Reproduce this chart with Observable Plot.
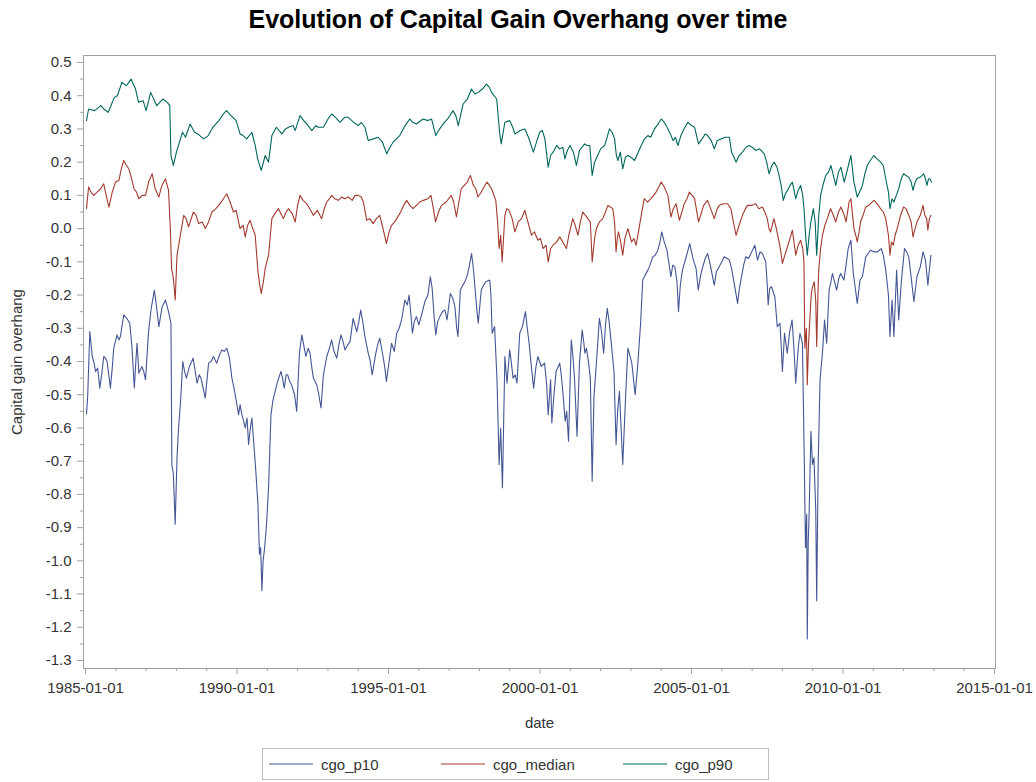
<!DOCTYPE html>
<html><head><meta charset="utf-8">
<script src="https://cdn.jsdelivr.net/npm/d3@7"></script>
<script src="https://cdn.jsdelivr.net/npm/@observablehq/plot@0.6"></script>
<style>
body{margin:0;background:#fff;font-family:"Liberation Sans",Arial,sans-serif;}
#wrap{position:relative;width:1036px;height:782px;overflow:hidden;}
#title{position:absolute;top:5px;left:0;width:1036px;text-align:center;font-weight:bold;font-size:25px;color:#000;}
#chart{position:absolute;top:40px;left:0;}
#legend{position:absolute;left:262px;top:748px;width:507px;height:32px;border:1px solid #bdbdbd;box-sizing:border-box;}
.item{position:absolute;top:0;height:30px;display:flex;align-items:center;font-size:15px;color:#333;}
.item svg{margin-right:8px;}
</style></head>
<body><div id="wrap">
<div id="title">Evolution of Capital Gain Overhang over time</div>
<div id="chart"></div>
<div id="legend"></div>
</div>
<script>
const seriesNames = ["cgo_p10", "cgo_median", "cgo_p90"];
const seriesColors = ["#445694", "#A23A2E", "#01665E"];

// dates as decimal years
const p90Dates = [1985.03,1985.1,1985.3,1985.5,1985.6,1985.75,1985.95,1986.05,1986.2,1986.35,1986.5,1986.65,1986.75,1986.9,1987.0,1987.15,1987.35,1987.55,1987.7,1987.78,1987.82,1987.9,1988.0,1988.2,1988.3,1988.45,1988.6,1988.7,1988.9,1989.05,1989.2,1989.4,1989.55,1989.65,1989.8,1989.97,1990.1,1990.2,1990.32,1990.49,1990.6,1990.68,1990.8,1990.93,1991.04,1991.15,1991.3,1991.48,1991.6,1991.7,1991.85,1991.92,1992.08,1992.2,1992.3,1992.47,1992.6,1992.68,1992.85,1993.0,1993.12,1993.25,1993.4,1993.55,1993.67,1993.85,1994.0,1994.1,1994.22,1994.33,1994.5,1994.66,1994.8,1994.94,1995.05,1995.15,1995.37,1995.55,1995.7,1995.8,1995.92,1996.14,1996.3,1996.42,1996.56,1996.65,1996.8,1996.95,1997.13,1997.22,1997.3,1997.46,1997.6,1997.74,1997.85,1997.96,1998.1,1998.23,1998.33,1998.4,1998.57,1998.67,1998.72,1998.84,1999.0,1999.1,1999.17,1999.35,1999.5,1999.62,1999.78,1999.9,1999.99,2000.08,2000.16,2000.27,2000.35,2000.43,2000.55,2000.65,2000.75,2000.82,2000.9,2000.99,2001.1,2001.2,2001.3,2001.47,2001.55,2001.64,2001.72,2001.8,2001.9,2002.0,2002.13,2002.2,2002.29,2002.38,2002.46,2002.52,2002.57,2002.65,2002.73,2002.82,2002.9,2003.0,2003.12,2003.22,2003.34,2003.45,2003.56,2003.65,2003.78,2003.9,2004.0,2004.1,2004.22,2004.3,2004.39,2004.47,2004.55,2004.65,2004.75,2004.88,2005.0,2005.1,2005.23,2005.35,2005.45,2005.53,2005.65,2005.75,2005.85,2005.97,2006.1,2006.25,2006.32,2006.4,2006.47,2006.57,2006.68,2006.8,2006.9,2007.0,2007.12,2007.25,2007.4,2007.48,2007.56,2007.65,2007.73,2007.82,2007.89,2007.96,2008.03,2008.1,2008.17,2008.25,2008.33,2008.44,2008.52,2008.6,2008.67,2008.72,2008.77,2008.82,2008.88,2008.94,2009.02,2009.08,2009.13,2009.2,2009.26,2009.35,2009.43,2009.52,2009.6,2009.68,2009.76,2009.85,2009.93,2010.04,2010.15,2010.26,2010.36,2010.47,2010.55,2010.64,2010.72,2010.8,2010.9,2011.02,2011.12,2011.24,2011.33,2011.41,2011.5,2011.55,2011.62,2011.68,2011.76,2011.84,2011.92,2012.0,2012.08,2012.17,2012.25,2012.31,2012.38,2012.44,2012.55,2012.66,2012.72,2012.77,2012.82,2012.86,2012.92];
const p90Values = [0.325,0.36,0.355,0.37,0.36,0.35,0.395,0.40,0.44,0.43,0.45,0.42,0.38,0.385,0.355,0.41,0.37,0.39,0.38,0.37,0.22,0.19,0.23,0.29,0.275,0.315,0.29,0.285,0.27,0.28,0.305,0.325,0.345,0.355,0.34,0.325,0.285,0.28,0.27,0.29,0.25,0.21,0.175,0.22,0.2,0.28,0.305,0.285,0.3,0.305,0.31,0.295,0.34,0.325,0.315,0.295,0.31,0.305,0.305,0.33,0.345,0.335,0.32,0.335,0.335,0.32,0.31,0.32,0.305,0.265,0.27,0.275,0.26,0.225,0.245,0.26,0.28,0.31,0.33,0.32,0.315,0.33,0.325,0.33,0.28,0.295,0.315,0.33,0.355,0.34,0.31,0.375,0.39,0.42,0.405,0.41,0.42,0.435,0.425,0.41,0.39,0.285,0.255,0.32,0.325,0.305,0.285,0.295,0.3,0.275,0.23,0.265,0.29,0.295,0.27,0.185,0.22,0.23,0.25,0.24,0.245,0.21,0.235,0.25,0.23,0.19,0.235,0.255,0.25,0.25,0.16,0.2,0.22,0.24,0.25,0.27,0.3,0.29,0.27,0.22,0.205,0.23,0.18,0.215,0.22,0.215,0.205,0.225,0.25,0.27,0.28,0.275,0.3,0.315,0.33,0.32,0.3,0.285,0.265,0.275,0.25,0.28,0.3,0.32,0.31,0.305,0.255,0.27,0.285,0.28,0.265,0.24,0.265,0.27,0.275,0.275,0.23,0.215,0.2,0.22,0.23,0.245,0.25,0.245,0.235,0.24,0.225,0.2,0.165,0.19,0.2,0.185,0.16,0.13,0.085,0.105,0.115,0.13,0.14,0.09,0.115,0.13,0.1,0.05,-0.03,-0.08,-0.02,0.02,0.06,0.02,-0.08,0.04,0.1,0.135,0.16,0.17,0.19,0.16,0.13,0.17,0.185,0.14,0.18,0.22,0.14,0.095,0.11,0.13,0.165,0.19,0.205,0.22,0.21,0.2,0.19,0.15,0.11,0.06,0.09,0.08,0.1,0.12,0.15,0.165,0.16,0.155,0.14,0.115,0.14,0.15,0.155,0.165,0.15,0.13,0.15,0.15,0.14];

const medDates = [1985.03,1985.1,1985.18,1985.27,1985.38,1985.5,1985.6,1985.68,1985.77,1985.88,1985.99,1986.1,1986.18,1986.26,1986.35,1986.43,1986.52,1986.6,1986.68,1986.76,1986.87,1986.98,1987.08,1987.2,1987.3,1987.42,1987.52,1987.64,1987.74,1987.8,1987.84,1987.9,1987.96,1988.02,1988.13,1988.24,1988.32,1988.4,1988.56,1988.65,1988.73,1988.85,1988.95,1989.06,1989.17,1989.3,1989.44,1989.55,1989.66,1989.77,1989.88,1989.97,1990.1,1990.2,1990.27,1990.35,1990.43,1990.52,1990.6,1990.69,1990.75,1990.8,1990.87,1990.93,1991.04,1991.1,1991.15,1991.25,1991.37,1991.45,1991.53,1991.62,1991.7,1991.82,1991.92,1992.0,1992.08,1992.18,1992.3,1992.4,1992.52,1992.65,1992.79,1992.88,1992.96,1993.05,1993.12,1993.22,1993.34,1993.45,1993.55,1993.67,1993.8,1993.9,1994.0,1994.1,1994.17,1994.28,1994.38,1994.49,1994.6,1994.71,1994.82,1994.93,1995.02,1995.1,1995.2,1995.27,1995.4,1995.5,1995.6,1995.7,1995.81,1995.92,1996.03,1996.15,1996.3,1996.4,1996.48,1996.55,1996.65,1996.75,1996.9,1997.07,1997.15,1997.24,1997.32,1997.4,1997.5,1997.6,1997.7,1997.8,1997.88,1997.95,1998.06,1998.15,1998.25,1998.33,1998.4,1998.54,1998.6,1998.65,1998.7,1998.75,1998.84,1998.9,1998.98,1999.08,1999.17,1999.28,1999.39,1999.5,1999.6,1999.72,1999.82,1999.93,2000.02,2000.1,2000.2,2000.27,2000.35,2000.43,2000.55,2000.65,2000.75,2000.87,2000.95,2001.08,2001.16,2001.25,2001.33,2001.41,2001.5,2001.58,2001.66,2001.72,2001.8,2001.86,2001.96,2002.07,2002.16,2002.24,2002.32,2002.4,2002.46,2002.51,2002.55,2002.59,2002.66,2002.73,2002.8,2002.9,2002.96,2003.02,2003.1,2003.17,2003.25,2003.34,2003.44,2003.55,2003.66,2003.75,2003.83,2003.92,2004.0,2004.1,2004.22,2004.32,2004.4,2004.49,2004.6,2004.68,2004.76,2004.85,2004.93,2005.02,2005.1,2005.23,2005.3,2005.4,2005.53,2005.63,2005.75,2005.85,2005.92,2006.05,2006.19,2006.3,2006.38,2006.47,2006.57,2006.68,2006.78,2006.85,2007.0,2007.12,2007.22,2007.34,2007.42,2007.5,2007.56,2007.61,2007.72,2007.8,2007.89,2007.95,2008.0,2008.08,2008.15,2008.25,2008.33,2008.44,2008.52,2008.6,2008.67,2008.71,2008.74,2008.79,2008.82,2008.86,2008.9,2008.95,2008.98,2009.05,2009.1,2009.13,2009.17,2009.2,2009.26,2009.32,2009.4,2009.48,2009.55,2009.59,2009.68,2009.76,2009.85,2009.93,2010.04,2010.1,2010.2,2010.26,2010.36,2010.42,2010.47,2010.53,2010.58,2010.66,2010.75,2010.85,2011.02,2011.12,2011.24,2011.33,2011.41,2011.5,2011.55,2011.6,2011.66,2011.72,2011.79,2011.9,2012.0,2012.08,2012.17,2012.25,2012.31,2012.38,2012.44,2012.55,2012.64,2012.7,2012.76,2012.8,2012.85,2012.9];
const medValues = [0.06,0.125,0.11,0.1,0.11,0.12,0.135,0.1,0.065,0.11,0.14,0.145,0.18,0.205,0.19,0.18,0.15,0.12,0.11,0.09,0.1,0.1,0.14,0.165,0.12,0.095,0.13,0.15,0.115,0.0,-0.12,-0.15,-0.215,-0.08,-0.02,0.04,0.03,0.005,0.05,0.04,0.015,0.02,0.0,0.02,0.05,0.06,0.075,0.09,0.105,0.08,0.05,0.055,0.0,0.01,-0.025,0.01,0.025,0.0,-0.02,-0.13,-0.17,-0.195,-0.16,-0.12,-0.08,-0.02,0.03,0.045,0.06,0.045,0.03,0.05,0.06,0.045,0.02,0.07,0.1,0.085,0.075,0.06,0.04,0.055,0.03,0.06,0.08,0.09,0.1,0.09,0.085,0.095,0.09,0.095,0.085,0.1,0.1,0.095,0.08,0.025,0.03,0.015,0.03,0.04,0.0,-0.045,-0.01,0.01,0.02,0.03,0.05,0.07,0.085,0.07,0.06,0.07,0.08,0.085,0.09,0.1,0.06,0.02,0.05,0.07,0.08,0.1,0.08,0.035,0.08,0.12,0.13,0.14,0.16,0.13,0.12,0.095,0.11,0.125,0.14,0.13,0.12,0.085,0.02,-0.06,-0.02,-0.1,0.04,0.06,0.055,0.03,-0.01,0.02,0.03,0.055,0.02,-0.02,-0.01,-0.035,-0.03,-0.06,-0.05,-0.1,-0.06,-0.05,-0.04,-0.025,-0.04,-0.06,-0.02,0.03,0.01,-0.02,0.02,0.05,0.04,0.03,0.02,-0.1,-0.03,0.0,0.02,0.03,0.05,0.07,0.065,0.06,0.02,-0.07,-0.03,-0.01,-0.04,-0.08,-0.03,0.0,-0.02,-0.04,-0.03,-0.05,-0.01,0.04,0.09,0.08,0.09,0.1,0.11,0.125,0.14,0.125,0.1,0.035,0.06,0.075,0.025,0.05,0.075,0.09,0.11,0.1,0.09,0.02,0.04,0.07,0.085,0.06,0.03,0.06,0.07,0.075,0.075,0.06,0.02,-0.02,0.01,0.04,0.06,0.07,0.07,0.075,0.06,0.065,0.05,0.03,0.0,-0.01,0.03,0.0,-0.04,-0.07,-0.105,-0.08,-0.06,-0.03,-0.005,-0.08,-0.05,-0.035,-0.06,-0.1,-0.36,-0.3,-0.47,-0.35,-0.28,-0.2,-0.18,-0.16,-0.22,-0.355,-0.2,-0.12,-0.06,-0.02,0.01,0.03,0.05,0.06,0.04,0.02,0.05,0.065,0.04,0.02,0.08,0.09,0.0,-0.02,-0.04,-0.01,0.02,0.04,0.065,0.07,0.085,0.075,0.06,0.05,0.03,-0.02,-0.08,-0.04,-0.05,-0.02,0.0,0.04,0.065,0.06,0.04,0.02,-0.025,0.0,0.02,0.04,0.07,0.04,0.03,-0.005,0.03,0.04];

const p10Dates = [1985.03,1985.07,1985.14,1985.22,1985.27,1985.33,1985.4,1985.47,1985.53,1985.6,1985.66,1985.71,1985.78,1985.82,1985.88,1985.93,1986.04,1986.1,1986.15,1986.26,1986.36,1986.46,1986.53,1986.61,1986.66,1986.7,1986.76,1986.86,1986.92,1986.98,1987.08,1987.16,1987.27,1987.35,1987.42,1987.53,1987.64,1987.74,1987.82,1987.85,1987.9,1987.96,1988.02,1988.07,1988.13,1988.21,1988.27,1988.33,1988.43,1988.55,1988.62,1988.68,1988.75,1988.81,1988.88,1988.95,1989.06,1989.14,1989.22,1989.33,1989.42,1989.5,1989.58,1989.66,1989.75,1989.83,1989.9,1989.94,1990.05,1990.1,1990.16,1990.22,1990.27,1990.33,1990.38,1990.44,1990.49,1990.54,1990.62,1990.69,1990.74,1990.78,1990.82,1990.86,1990.9,1990.95,1990.98,1991.04,1991.12,1991.18,1991.23,1991.34,1991.45,1991.5,1991.56,1991.62,1991.67,1991.74,1991.8,1991.9,1991.97,1992.06,1992.14,1992.2,1992.27,1992.35,1992.41,1992.47,1992.52,1992.63,1992.7,1992.77,1992.85,1992.96,1993.05,1993.12,1993.2,1993.29,1993.36,1993.43,1993.5,1993.56,1993.65,1993.73,1993.83,1993.95,1994.02,1994.08,1994.15,1994.22,1994.33,1994.4,1994.46,1994.57,1994.64,1994.71,1994.82,1994.88,1994.93,1995.02,1995.1,1995.19,1995.27,1995.35,1995.43,1995.54,1995.62,1995.68,1995.74,1995.79,1995.85,1995.92,1996.0,1996.09,1996.2,1996.3,1996.38,1996.44,1996.5,1996.56,1996.62,1996.69,1996.78,1996.86,1996.93,1997.04,1997.12,1997.19,1997.25,1997.29,1997.37,1997.45,1997.52,1997.6,1997.66,1997.74,1997.8,1997.85,1997.92,1997.96,1998.06,1998.14,1998.21,1998.34,1998.38,1998.42,1998.5,1998.58,1998.65,1998.7,1998.76,1998.84,1998.91,1999.0,1999.05,1999.11,1999.18,1999.24,1999.33,1999.42,1999.52,1999.58,1999.64,1999.72,1999.79,1999.86,1999.93,2000.04,2000.15,2000.22,2000.27,2000.35,2000.39,2000.46,2000.53,2000.65,2000.7,2000.75,2000.83,2000.88,2000.94,2001.03,2001.08,2001.14,2001.22,2001.3,2001.39,2001.44,2001.48,2001.53,2001.59,2001.66,2001.72,2001.78,2001.86,2001.96,2002.03,2002.1,2002.16,2002.22,2002.28,2002.33,2002.44,2002.51,2002.56,2002.62,2002.73,2002.82,2002.9,2002.96,2003.03,2003.14,2003.23,2003.32,2003.39,2003.47,2003.56,2003.63,2003.72,2003.8,2003.89,2003.96,2004.02,2004.1,2004.19,2004.32,2004.38,2004.45,2004.52,2004.57,2004.63,2004.7,2004.81,2004.94,2005.06,2005.15,2005.22,2005.3,2005.37,2005.45,2005.53,2005.62,2005.75,2005.82,2005.88,2006.0,2006.08,2006.18,2006.25,2006.32,2006.39,2006.52,2006.58,2006.63,2006.72,2006.79,2006.88,2006.96,2007.09,2007.18,2007.26,2007.34,2007.45,2007.5,2007.53,2007.58,2007.64,2007.75,2007.8,2007.83,2007.92,2007.96,2008.0,2008.07,2008.16,2008.24,2008.32,2008.38,2008.44,2008.52,2008.58,2008.66,2008.72,2008.76,2008.8,2008.82,2008.85,2008.88,2008.94,2008.99,2009.04,2009.1,2009.13,2009.18,2009.24,2009.32,2009.39,2009.46,2009.54,2009.6,2009.65,2009.72,2009.79,2009.86,2009.92,2010.03,2010.1,2010.17,2010.26,2010.34,2010.4,2010.47,2010.56,2010.64,2010.75,2010.83,2010.91,2011.02,2011.13,2011.2,2011.26,2011.33,2011.41,2011.5,2011.55,2011.62,2011.68,2011.77,2011.84,2011.92,2012.03,2012.1,2012.17,2012.26,2012.34,2012.44,2012.55,2012.64,2012.72,2012.8,2012.86,2012.9];
const p10Values = [-0.558,-0.505,-0.31,-0.385,-0.4,-0.43,-0.42,-0.48,-0.44,-0.385,-0.39,-0.4,-0.45,-0.48,-0.42,-0.36,-0.32,-0.335,-0.325,-0.26,-0.27,-0.285,-0.355,-0.48,-0.4,-0.345,-0.435,-0.415,-0.43,-0.455,-0.31,-0.245,-0.185,-0.24,-0.295,-0.235,-0.215,-0.25,-0.285,-0.71,-0.74,-0.89,-0.69,-0.6,-0.53,-0.4,-0.43,-0.45,-0.415,-0.39,-0.43,-0.465,-0.44,-0.45,-0.48,-0.51,-0.405,-0.4,-0.385,-0.405,-0.38,-0.365,-0.37,-0.36,-0.39,-0.45,-0.48,-0.5,-0.56,-0.53,-0.56,-0.58,-0.6,-0.57,-0.65,-0.6,-0.57,-0.63,-0.73,-0.83,-0.98,-0.96,-1.09,-1.0,-0.97,-0.92,-0.88,-0.78,-0.56,-0.52,-0.5,-0.46,-0.43,-0.45,-0.48,-0.44,-0.44,-0.46,-0.47,-0.5,-0.55,-0.375,-0.32,-0.35,-0.385,-0.36,-0.375,-0.42,-0.45,-0.47,-0.5,-0.54,-0.44,-0.385,-0.36,-0.335,-0.37,-0.39,-0.35,-0.32,-0.34,-0.365,-0.35,-0.34,-0.27,-0.31,-0.28,-0.245,-0.28,-0.325,-0.375,-0.4,-0.44,-0.38,-0.35,-0.33,-0.385,-0.42,-0.46,-0.4,-0.345,-0.37,-0.315,-0.3,-0.275,-0.215,-0.23,-0.2,-0.26,-0.315,-0.28,-0.265,-0.29,-0.26,-0.22,-0.2,-0.145,-0.18,-0.26,-0.32,-0.28,-0.265,-0.25,-0.245,-0.275,-0.195,-0.21,-0.235,-0.3,-0.325,-0.185,-0.17,-0.16,-0.14,-0.115,-0.075,-0.12,-0.175,-0.25,-0.285,-0.185,-0.17,-0.16,-0.155,-0.2,-0.315,-0.295,-0.455,-0.71,-0.6,-0.78,-0.385,-0.465,-0.365,-0.4,-0.45,-0.44,-0.465,-0.315,-0.295,-0.25,-0.3,-0.345,-0.42,-0.48,-0.42,-0.385,-0.415,-0.405,-0.47,-0.56,-0.455,-0.585,-0.5,-0.43,-0.405,-0.44,-0.49,-0.58,-0.55,-0.64,-0.335,-0.38,-0.455,-0.625,-0.405,-0.305,-0.34,-0.375,-0.36,-0.395,-0.45,-0.76,-0.505,-0.405,-0.27,-0.31,-0.375,-0.29,-0.24,-0.28,-0.325,-0.43,-0.65,-0.55,-0.49,-0.71,-0.515,-0.36,-0.38,-0.405,-0.5,-0.405,-0.285,-0.155,-0.14,-0.125,-0.11,-0.085,-0.08,-0.065,-0.04,-0.01,-0.04,-0.065,-0.145,-0.11,-0.115,-0.16,-0.25,-0.17,-0.125,-0.09,-0.045,-0.095,-0.12,-0.185,-0.14,-0.115,-0.09,-0.075,-0.11,-0.17,-0.13,-0.12,-0.1,-0.085,-0.09,-0.095,-0.12,-0.155,-0.225,-0.18,-0.155,-0.11,-0.085,-0.09,-0.075,-0.05,-0.095,-0.07,-0.075,-0.1,-0.17,-0.23,-0.18,-0.175,-0.205,-0.26,-0.295,-0.285,-0.35,-0.43,-0.315,-0.375,-0.31,-0.275,-0.36,-0.465,-0.36,-0.315,-0.345,-0.69,-0.96,-0.86,-1.235,-0.95,-0.86,-0.61,-0.71,-0.69,-0.85,-1.12,-0.71,-0.455,-0.375,-0.275,-0.345,-0.185,-0.16,-0.135,-0.16,-0.185,-0.15,-0.135,-0.155,-0.11,-0.06,-0.035,-0.135,-0.175,-0.225,-0.155,-0.145,-0.085,-0.075,-0.065,-0.07,-0.07,-0.065,-0.06,-0.08,-0.125,-0.2,-0.325,-0.215,-0.325,-0.125,-0.275,-0.165,-0.06,-0.07,-0.085,-0.155,-0.22,-0.145,-0.115,-0.07,-0.095,-0.17,-0.115,-0.08];

const xTickDates = ["1985-01-01","1990-01-01","1995-01-01","2000-01-01","2005-01-01","2010-01-01","2015-01-01"];
const yTickValues = [0.5,0.4,0.3,0.2,0.1,0.0,-0.1,-0.2,-0.3,-0.4,-0.5,-0.6,-0.7,-0.8,-0.9,-1.0,-1.1,-1.2,-1.3];

function toDate(t) {
  const y = Math.floor(t), f = t - y;
  const a = Date.UTC(y, 0, 1), b = Date.UTC(y + 1, 0, 1);
  return new Date(a + f * (b - a));
}
const rows = [];
[[p10Dates, p10Values, seriesNames[0]], [medDates, medValues, seriesNames[1]], [p90Dates, p90Values, seriesNames[2]]]
  .forEach(([ds, vs, name]) => ds.forEach((d, i) => rows.push({date: toDate(d), value: vs[i], series: name})));

const xTicks = xTickDates.map(s => new Date(s + "T00:00:00Z"));
const yMinor = [];
for (let i = 0; i < yTickValues.length - 1; i++) yMinor.push((yTickValues[i] + yTickValues[i + 1]) / 2);
const xMinor = [];
for (let y = 1986; y <= 2014; y++) if (y % 5) xMinor.push(new Date(Date.UTC(y, 0, 1)));

const gray = "#a0a0a0";
const chart = Plot.plot({
  width: 1036, height: 700,
  marginLeft: 83, marginRight: 41, marginTop: 15, marginBottom: 72,
  style: {fontFamily: '"Liberation Sans", Arial, sans-serif', fontSize: "15px", color: "#333", background: "#fff"},
  x: {type: "utc", domain: [new Date("1984-12-07T00:00:00Z"), new Date("2015-01-13T00:00:00Z")]},
  y: {domain: [-1.324, 0.521]},
  color: {domain: seriesNames, range: seriesColors},
  marks: [
    Plot.line(rows, {x: "date", y: "value", z: "series", stroke: "series", strokeWidth: 1.1}),
    Plot.frame({stroke: gray}),
    Plot.axisY({ticks: yTickValues, tickFormat: d => d.toFixed(1), tickSize: 6, tickPadding: 6, stroke: gray, fill: "#333",
      label: "Capital gain overhang", labelAnchor: "center", labelArrow: "none", labelOffset: 72, fontSize: 15}),
    Plot.axisY({ticks: yMinor, tickSize: 3, text: null, stroke: gray, label: null}),
    Plot.axisX({ticks: xTicks, tickFormat: d3.utcFormat("%Y-%m-%d"), tickSize: 6, tickPadding: 8, stroke: gray, fill: "#333",
      label: "date", labelAnchor: "center", labelArrow: "none", labelOffset: 59, fontSize: 15}),
    Plot.axisX({ticks: xMinor, tickSize: 3, text: null, stroke: gray, label: null})
  ]
});
document.getElementById("chart").appendChild(chart);

// legend
const legend = document.getElementById("legend");
const legendX = [6, 178, 360];
seriesNames.forEach((name, i) => {
  const item = document.createElement("div");
  item.className = "item";
  item.style.left = legendX[i] + "px";
  item.innerHTML = `<svg width="44" height="4"><line x1="0" y1="2" x2="44" y2="2" stroke="${seriesColors[i]}" stroke-width="1.2"/></svg><span>${name}</span>`;
  legend.appendChild(item);
});
</script>
</body></html>
